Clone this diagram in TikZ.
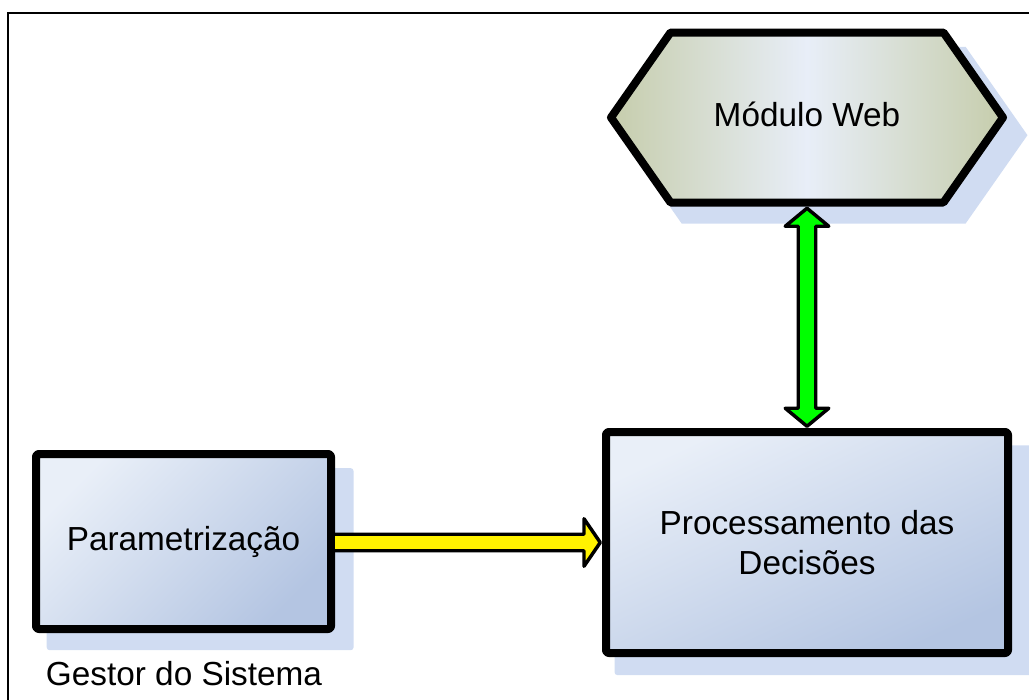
\documentclass[tikz,border=0pt]{standalone}
\usepackage{fontspec}
\setmainfont{Liberation Sans}
\usetikzlibrary{calc,shapes.symbols,shadows}

\definecolor{boxlight}{RGB}{233,239,248}
\definecolor{boxdark}{RGB}{180,197,226}
\definecolor{hexedge}{RGB}{198,205,172}
\definecolor{hexmid}{RGB}{232,238,248}
\definecolor{shadowblue}{RGB}{208,220,242}

\begin{document}
\begin{tikzpicture}[x=0.75pt,y=-0.75pt,
    box/.style={draw=black, line width=6pt, line join=round, rectangle, rounded corners=2pt,
      top color=boxlight, bottom color=boxdark, shading angle=45,
      drop shadow={shadow xshift=12pt, shadow yshift=-12.75pt, shadow scale=1.04, fill=shadowblue, opacity=1},
      font=\fontsize{25}{30}\selectfont, align=center},
    webbox/.style={draw=black, line width=6pt, line join=round, signal, signal to=east and west,
      signal pointer angle=110, minimum width=294pt, minimum height=127.5pt,
      left color=hexedge, right color=hexedge, middle color=hexmid,
      drop shadow={shadow xshift=12pt, shadow yshift=-12.75pt, shadow scale=1.04, fill=shadowblue, opacity=1},
      font=\fontsize{25}{30}\selectfont, text height=14pt, text depth=0pt},
    caption/.style={font=\fontsize{25}{30}\selectfont, inner sep=0pt},
    flowarrow/.style={draw=black, line width=2.6pt, line join=round}]
  \useasboundingbox (0,0) rectangle (1029,700);
  % frame
  \draw[line width=1.5pt] (8,705) -- (8,13) -- (1035,13);

  % blocks
  \node[webbox] (web) at (807,117.5) {Módulo Web};
  \node[box, minimum width=221.25pt, minimum height=131.25pt] (param) at (183.5,541.5) {Parametrização};
  \node[box, shading angle=25, minimum width=301.5pt, minimum height=165.75pt] (proc) at (807,542.5) {Processamento das\\Decisões};
  \node[caption, anchor=base] (gestor) at (184,685) {Gestor do Sistema};

  % arrows
  \draw[flowarrow, fill=yellow] ($(param.east |- proc.west)+(-1.75,-8.25)$) -- ($(proc.west)+(-18,-8.25)$)
    -- ($(proc.west)+(-18,-23.75)$) -- ($(proc.west)+(-1.75,0)$) -- ($(proc.west)+(-18,23.75)$)
    -- ($(proc.west)+(-18,8.25)$) -- ($(param.east |- proc.west)+(-1.75,8.25)$) -- cycle;
  \draw[flowarrow, fill=green] ($(web.south)+(0,1.75)$) -- ($(web.south)+(21.75,19.75)$)
    -- ($(web.south)+(8.75,19.75)$) -- ($(proc.north)+(8.75,-19.75)$) -- ($(proc.north)+(21.75,-19.75)$)
    -- ($(proc.north)+(0,-1.75)$) -- ($(proc.north)+(-21.75,-19.75)$) -- ($(proc.north)+(-8.75,-19.75)$)
    -- ($(web.south)+(-8.75,19.75)$) -- ($(web.south)+(-21.75,19.75)$) -- cycle;
\end{tikzpicture}
\end{document}
